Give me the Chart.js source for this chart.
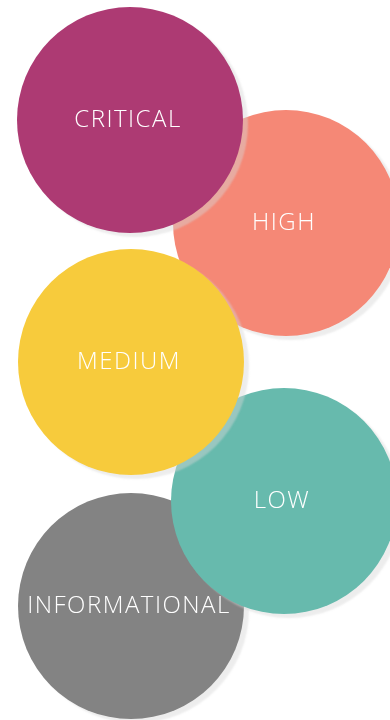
<!DOCTYPE html>
<html>
<head>
<meta charset="utf-8">
<script src="https://cdn.jsdelivr.net/npm/chart.js@4"></script>
<style>
  html, body { margin: 0; padding: 0; background: #ffffff; }
  #wrap { position: relative; width: 390px; height: 720px; }
</style>
</head>
<body>
<div id="wrap"><canvas id="c"></canvas></div>
<script>
// Categories (top to bottom as shown)
const categories = ['CRITICAL', 'HIGH', 'MEDIUM', 'LOW', 'INFORMATIONAL'];
// Bubble values
const xValues = [130, 286, 131, 284, 131];
const yValues = [120, 223, 362, 501, 606];
const rValues = [113, 113, 113, 113, 113];
// Stacking: lower number drawn on top
const stackOrder = [1, 4, 2, 3, 5];
const colors = ['#ad3a73', '#f58876', '#f7cb3c', '#67baad', '#838383'];

const datasets = categories.map((name, i) => ({
  label: name,
  data: [{ x: xValues[i], y: yValues[i], r: rValues[i] }],
  backgroundColor: colors[i],
  borderWidth: 0,
  hoverBorderWidth: 0,
  clip: false,
  order: stackOrder[i]
}));

const shadowPlugin = {
  id: 'bubbleShadow',
  beforeDatasetDraw(chart) {
    const ctx = chart.ctx;
    ctx.save();
    ctx.shadowColor = 'rgba(215,215,215,0.45)';
    ctx.shadowOffsetX = 5;
    ctx.shadowOffsetY = 4;
    ctx.shadowBlur = 2;
  },
  afterDatasetDraw(chart) {
    chart.ctx.restore();
  }
};

const labelPlugin = {
  id: 'bubbleLabels',
  afterDatasetsDraw(chart) {
    const ctx = chart.ctx;
    ctx.save();
    ctx.fillStyle = '#ffffff';
    ctx.font = '300 24px "Open Sans"';
    ctx.textAlign = 'center';
    ctx.textBaseline = 'middle';
    if ('letterSpacing' in ctx) ctx.letterSpacing = '1.5px';
    chart.data.datasets.forEach((ds, i) => {
      const el = chart.getDatasetMeta(i).data[0];
      if (!el) return;
      ctx.fillText(ds.label, el.x - 2, el.y);
    });
    ctx.restore();
  }
};

new Chart(document.getElementById('c'), {
  type: 'bubble',
  data: { datasets },
  options: {
    responsive: true,
    maintainAspectRatio: false,
    animation: false,
    events: [],
    layout: { padding: 0, autoPadding: false },
    plugins: { legend: { display: false }, tooltip: { enabled: false } },
    scales: {
      x: { type: 'linear', min: 0, max: 390, display: false },
      y: { type: 'linear', min: 0, max: 720, reverse: true, display: false }
    }
  },
  plugins: [shadowPlugin, labelPlugin]
});
</script>
</body>
</html>
